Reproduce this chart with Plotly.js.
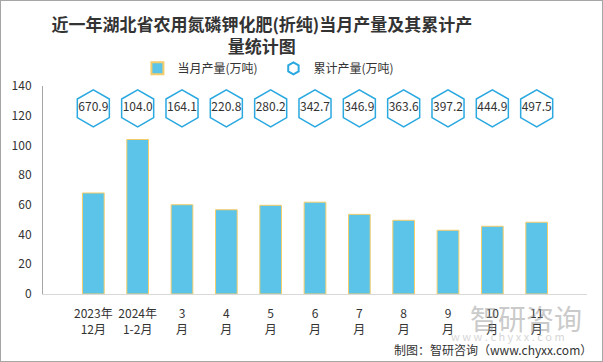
<!DOCTYPE html>
<html>
<head>
<meta charset="utf-8">
<script src="https://cdn.plot.ly/plotly-3.0.1.min.js"></script>
<style>
html,body{margin:0;padding:0;background:#fff;}
#chart{width:601px;height:360px;border:1px solid #a6a6a6;}
</style>
</head>
<body>
<div id="chart"></div>
<script>
// Data
const categories = ["2023年<br>12月","2024年<br>1-2月","3<br>月","4<br>月","5<br>月","6<br>月","7<br>月","8<br>月","9<br>月","10<br>月","11<br>月"];
const monthlyOutput = [68.0, 104.0, 60.1, 56.7, 59.7, 61.8, 53.6, 49.6, 42.9, 45.6, 48.3];
const cumulativeOutput = [670.9, 104.0, 164.1, 220.8, 280.2, 342.7, 346.9, 363.6, 397.2, 444.9, 497.5];
const yTicks = [0, 20, 40, 60, 80, 100, 120, 140];
const LABEL_ROW = 125; // row height where cumulative badges sit

const font = "'Noto Sans CJK SC', 'Noto Sans', sans-serif";

const traces = [
  {
    type: 'bar',
    name: '当月产量(万吨)',
    x: categories,
    y: monthlyOutput,
    marker: {color: '#5bc4e8', line: {color: '#f5cd6a', width: 1}},
    hoverinfo: 'y'
  },
  {
    type: 'scatter',
    mode: 'markers+text',
    name: '累计产量(万吨)',
    x: categories,
    y: categories.map(() => LABEL_ROW),
    text: cumulativeOutput.map(v => v.toFixed(1)),
    textposition: 'middle center',
    textfont: {family: font, size: 12, color: '#333333'},
    marker: {symbol: 'hexagon-open', size: 37, color: '#2aa8e0', line: {width: 1.5, color: '#2aa8e0'}},
    hoverinfo: 'text'
  }
];

const layout = {
  width: 601, height: 360,
  margin: {l: 42, r: 15, t: 85, b: 67},
  paper_bgcolor: '#ffffff', plot_bgcolor: '#ffffff',
  font: {family: font, size: 12, color: '#333333'},
  title: {
    text: '<b>近一年湖北省农用氮磷钾化肥(折纯)当月产量及其累计产<br>量统计图</b>',
    font: {family: font, size: 17, color: '#333333'},
    x: 0.434, xanchor: 'center', xref: 'container',
    y: 0.917, yanchor: 'middle', yref: 'container'
  },
  showlegend: true,
  legend: {
    orientation: 'h', xref: 'container', yref: 'container',
    x: 0.227, xanchor: 'left', y: 0.813, yanchor: 'middle',
    font: {family: font, size: 12, color: '#333333'},
    entrywidth: 91, entrywidthmode: 'pixels',
    itemsizing: 'constant', bgcolor: 'rgba(0,0,0,0)'
  },
  bargap: 0.51,
  xaxis: {
    type: 'category',
    showline: true, linecolor: '#d9d9d9', linewidth: 1,
    ticks: '', showgrid: false, tickangle: 0,
    ticklabelstandoff: 9,
    tickfont: {family: font, size: 12, color: '#333333'},
    fixedrange: true
  },
  yaxis: {
    range: [0, 140], tickvals: yTicks,
    showline: true, linecolor: '#a6a6a6', linewidth: 1,
    showgrid: false, zeroline: false, ticks: '',
    ticklabelstandoff: 8,
    tickfont: {family: font, size: 12, color: '#333333'},
    fixedrange: true
  },
  annotations: [
    {
      text: '制图：智研咨询（www.chyxx.com）', showarrow: false,
      xref: 'paper', yref: 'paper', x: 1.013, y: -0.269,
      xanchor: 'right', yanchor: 'middle',
      font: {family: font, size: 12, color: '#333333'}
    },
    {
      text: '智研咨询', showarrow: false,
      xref: 'paper', yref: 'paper', x: 0.888, y: -0.115,
      xanchor: 'center', yanchor: 'middle', opacity: 0.45,
      font: {family: font, size: 28, color: '#8c8c8c'}
    },
    {
      text: 'w w w . c h y x x . c o m', showarrow: false,
      xref: 'paper', yref: 'paper', x: 0.855, y: -0.2,
      xanchor: 'center', yanchor: 'middle', opacity: 0.35,
      font: {family: font, size: 11, color: '#8c8c8c'}
    }
  ]
};

Plotly.newPlot('chart', traces, layout, {displayModeBar: false, staticPlot: true});
</script>
</body>
</html>
